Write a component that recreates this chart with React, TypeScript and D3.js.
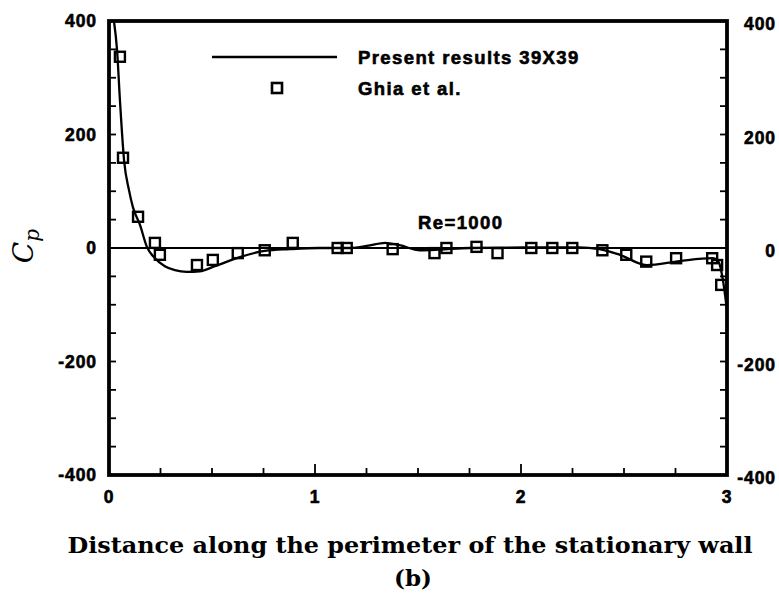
import React from "react";
import * as d3 from "d3";

// Computed pressure coefficient along the stationary wall (39x39 grid)
const presentX = [0.024, 0.039, 0.053, 0.073, 0.097, 0.116, 0.15, 0.184, 0.223, 0.271, 0.32, 0.378, 0.44, 0.514, 0.635, 0.756, 0.877, 1.02, 1.17, 1.26, 1.34, 1.41, 1.51, 1.6, 1.75, 2.09, 2.28, 2.38, 2.48, 2.61, 2.77, 2.93, 2.96, 2.98, 3.0];
const presentCp = [400, 349, 261, 155, 102, 72, 41, 2, -18, -32, -39, -42, -41, -32, -16, -5, -2, 0, 0, 4, 9, 5, -4, -3, 0, 1, 1, -2, -12, -30, -23, -18, -25, -56, -110];

// Ghia et al. reference data
const ghiaX = [0.053, 0.068, 0.141, 0.223, 0.247, 0.427, 0.504, 0.625, 0.756, 0.892, 1.11, 1.154, 1.377, 1.58, 1.638, 1.784, 1.886, 2.05, 2.152, 2.249, 2.395, 2.511, 2.608, 2.753, 2.928, 2.952, 2.972];
const ghiaCp = [337, 159, 55, 9, -12, -30, -21, -9, -4, 9, 0, 0, -2, -9, 0, 2, -9, 0, 0, 0, -4, -12, -24, -18, -18, -30, -65];

const xTickLabels = [0, 1, 2, 3];
const yTickLabels = [400, 200, 0, -200, -400];
const xMinorTicks = d3.range(0.25, 3, 0.25);
const yMinorTicks = d3.range(-350, 400, 50);

const legendLabels = ["Present results 39X39", "Ghia et al."];
const annotation = "Re=1000";

export default function App() {
  const width = 779;
  const height = 606;
  const left = 109;
  const right = 727;
  const top = 21;
  const bottom = 475;

  const x = d3.scaleLinear().domain([0, 3]).range([left, right]);
  const y = d3.scaleLinear().domain([-400, 400]).range([bottom, top]);

  const pts: [number, number][] = presentX.map((v, i) => [v, presentCp[i]]);
  const line = d3
    .line<[number, number]>()
    .x((d) => x(d[0]))
    .y((d) => y(d[1]))
    .curve(d3.curveMonotoneX);

  const tickFont = {
    fontFamily: "'Liberation Sans', Arial, sans-serif",
    fontWeight: 700,
    fontSize: 17.5,
    letterSpacing: 0.9,
    stroke: "#000",
    strokeWidth: 0.6,
  } as const;

  const labelFont = {
    ...tickFont,
    fontSize: 18.5,
    letterSpacing: 1.4,
  } as const;

  const sq = 10;

  return (
    <svg
      width={width}
      height={height}
      style={{ position: "absolute", left: 0, top: 0, background: "#fff" }}
    >
      <defs>
        <clipPath id="plotArea">
          <rect x={left} y={top - 2} width={right - left} height={bottom - top + 4} />
        </clipPath>
      </defs>

      {/* zero reference line */}
      <line x1={x(0)} x2={x(3)} y1={y(0)} y2={y(0)} stroke="#000" strokeWidth={2} />

      {/* x ticks, pointing inward */}
      {xMinorTicks.map((t) => (
        <line
          key={"xt" + t}
          x1={x(t)}
          x2={x(t)}
          y1={bottom}
          y2={bottom - (Number.isInteger(t) ? 11 : 7)}
          stroke="#000"
          strokeWidth={1.8}
        />
      ))}

      {/* y ticks on both sides */}
      {yMinorTicks.map((t) => (
        <g key={"yt" + t}>
          <line x1={left} x2={left + 7} y1={y(t)} y2={y(t)} stroke="#000" strokeWidth={1.8} />
          <line x1={right} x2={right - 7} y1={y(t)} y2={y(t)} stroke="#000" strokeWidth={1.8} />
        </g>
      ))}

      {/* computed curve */}
      <path
        d={line(pts) ?? ""}
        fill="none"
        stroke="#000"
        strokeWidth={2.3}
        clipPath="url(#plotArea)"
      />

      {/* Ghia et al. squares */}
      {ghiaX.map((v, i) => (
        <rect
          key={"g" + i}
          x={x(v) - sq / 2}
          y={y(ghiaCp[i]) - sq / 2}
          width={sq}
          height={sq}
          fill="none"
          stroke="#000"
          strokeWidth={2.4}
        />
      ))}

      {/* frame */}
      <rect
        x={left}
        y={top}
        width={right - left}
        height={bottom - top}
        fill="none"
        stroke="#000"
        strokeWidth={3.8}
      />

      {/* left tick labels */}
      {yTickLabels.map((t) => (
        <text key={"yl" + t} x={97} y={y(t)} dy="0.36em" textAnchor="end" {...tickFont}>
          {t}
        </text>
      ))}
      {/* right tick labels */}
      {yTickLabels.map((t) => (
        <text key={"yr" + t} x={776} y={y(t) + 3} dy="0.36em" textAnchor="end" {...tickFont}>
          {t}
        </text>
      ))}
      {/* bottom tick labels */}
      {xTickLabels.map((t) => (
        <text key={"xl" + t} x={x(t)} y={497} dy="0.36em" textAnchor="middle" {...tickFont}>
          {t}
        </text>
      ))}

      {/* legend */}
      <line x1={212} x2={337} y1={57} y2={57} stroke="#000" strokeWidth={2.5} />
      <text x={358} y={57} dy="0.36em" {...labelFont}>
        {legendLabels[0]}
      </text>
      <rect x={277 - 5} y={88 - 5} width={10} height={10} fill="none" stroke="#000" strokeWidth={2.6} />
      <text x={358} y={88} dy="0.36em" {...labelFont}>
        {legendLabels[1]}
      </text>

      <text x={418} y={222} dy="0.36em" {...labelFont}>
        {annotation}
      </text>

      {/* axis titles */}
      <text
        transform="translate(33,246) rotate(-90)"
        textAnchor="middle"
        fontFamily="'DejaVu Serif', 'Liberation Serif', serif"
        fontStyle="italic"
        fontSize={28}
      >
        C
        <tspan fontSize={20} dy={6}>
          p
        </tspan>
      </text>

      <text
        x={410}
        y={553}
        textAnchor="middle"
        fontFamily="'DejaVu Serif', serif"
        fontWeight={700}
        fontSize={22}
        textLength={685}
        lengthAdjust="spacingAndGlyphs"
      >
        Distance along the perimeter of the stationary wall
      </text>
      <text
        x={413}
        y={586}
        textAnchor="middle"
        fontFamily="'DejaVu Serif', serif"
        fontWeight={700}
        fontSize={23}
      >
        (b)
      </text>
    </svg>
  );
}
